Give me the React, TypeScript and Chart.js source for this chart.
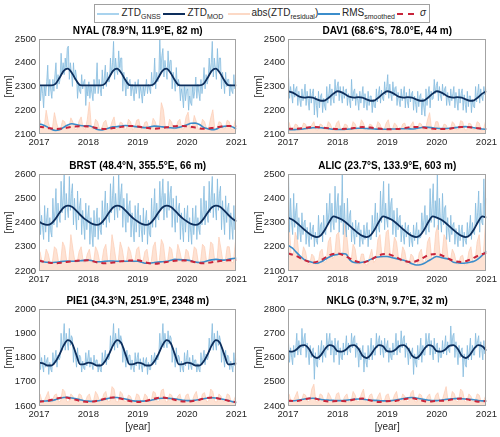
import React, { useEffect, useRef } from "react";
import { Chart, registerables } from "chart.js";

Chart.register(...registerables);

// ---------------- data ----------------
const YEAR_TICKS = [2017, 2018, 2019, 2020, 2021];

// NYAL
const nyalTitle = "NYAL (78.9°N, 11.9°E, 82 m)";
const nyalYTicks = [2100, 2200, 2300, 2400, 2500];
// ZTD GNSS, four readings per month (Jan 2017 .. Dec 2020)
const nyalGnss = [
  2330, 2240, 2300, 2270, 2210, 2300, 2260, 2320, 2390, 2260, 2330, 2280, 2250, 2330, 2280, 2350, 2400, 2290, 2350, 2310, 2330, 2440, 2360, 2400,
  2350, 2420, 2380, 2460, 2470, 2330, 2400, 2360, 2300, 2400, 2330, 2370, 2340, 2250, 2310, 2280, 2270, 2350, 2290, 2320, 2330, 2220, 2300, 2260,
  2320, 2250, 2300, 2270, 2240, 2330, 2270, 2310, 2400, 2270, 2330, 2290, 2260, 2370, 2290, 2340, 2390, 2300, 2360, 2320, 2320, 2420, 2350, 2400,
  2490, 2330, 2420, 2370, 2350, 2450, 2380, 2420, 2420, 2280, 2360, 2310, 2260, 2340, 2290, 2320, 2330, 2260, 2310, 2280, 2240, 2320, 2270, 2300,
  2330, 2250, 2300, 2270, 2230, 2300, 2260, 2290, 2330, 2270, 2310, 2290, 2270, 2360, 2300, 2330, 2420, 2290, 2360, 2320, 2340, 2500, 2370, 2430,
  2460, 2340, 2410, 2370, 2330, 2450, 2370, 2410, 2410, 2290, 2360, 2320, 2280, 2380, 2300, 2330, 2310, 2240, 2290, 2260, 2210, 2300, 2240, 2280,
  2290, 2200, 2260, 2230, 2220, 2300, 2250, 2280, 2340, 2250, 2310, 2270, 2240, 2330, 2270, 2310, 2380, 2290, 2350, 2310, 2330, 2420, 2360, 2400,
  2490, 2340, 2420, 2380, 2330, 2460, 2370, 2420, 2420, 2290, 2360, 2320, 2270, 2360, 2300, 2330, 2330, 2260, 2310, 2280, 2270, 2350, 2290, 2320,
];
// abs(ZTD residual), two readings per month
const nyalResidual = [
  2160, 2122, 2125, 2200, 2150, 2120, 2124, 2190, 2148, 2118, 2122, 2158, 2152, 2120, 2125, 2168, 2150, 2119, 2121, 2155, 2172, 2123, 2120, 2162,
  2235, 2124, 2120, 2162, 2152, 2118, 2123, 2150, 2158, 2121, 2122, 2152, 2172, 2119, 2124, 2150, 2146, 2120, 2122, 2162, 2152, 2118, 2125, 2158,
  2162, 2121, 2123, 2150, 2152, 2119, 2122, 2166, 2152, 2120, 2126, 2232, 2202, 2124, 2120, 2162, 2150, 2118, 2123, 2152, 2162, 2121, 2122, 2172,
  2192, 2123, 2124, 2178, 2152, 2119, 2121, 2162, 2152, 2122, 2126, 2168, 2202, 2120, 2122, 2152, 2148, 2121, 2123, 2158, 2152, 2119, 2122, 2162,
];
// monthly
const nyalMod = [
  2305, 2305, 2305, 2305, 2311, 2337, 2366, 2375, 2357, 2327, 2306, 2305,
  2305, 2305, 2305, 2305, 2311, 2337, 2366, 2375, 2357, 2327, 2306, 2305,
  2305, 2305, 2305, 2305, 2311, 2337, 2366, 2375, 2357, 2327, 2306, 2305,
  2305, 2305, 2305, 2305, 2311, 2337, 2366, 2375, 2357, 2327, 2306, 2305,
  2305,
];
const nyalRms = [
  2142, 2138, 2130, 2120, 2115, 2118, 2128, 2138, 2143, 2140, 2136, 2134,
  2135, 2130, 2120, 2117, 2120, 2125, 2130, 2131, 2133, 2136, 2134, 2132,
  2130, 2128, 2127, 2130, 2133, 2132, 2130, 2128, 2126, 2125, 2128, 2133,
  2139, 2145, 2146, 2140, 2128, 2122, 2118, 2120, 2128, 2132, 2134, 2130,
  2121,
];
// every two months
const nyalSigma = [
  2131, 2126, 2121, 2124, 2130, 2133,
  2132, 2125, 2121, 2125, 2130, 2134,
  2132, 2126, 2122, 2125, 2131, 2134,
  2133, 2127, 2122, 2125, 2131, 2134,
  2132,
];

// DAV1
const dav1Title = "DAV1 (68.6°S, 78.0°E, 44 m)";
const dav1YTicks = [2100, 2200, 2300, 2400, 2500];
const dav1Gnss = [
  2340, 2250, 2300, 2265, 2230, 2310, 2255, 2290, 2300, 2220, 2280, 2240, 2215, 2290, 2240, 2270, 2310, 2220, 2280, 2240, 2200, 2290, 2230, 2270,
  2290, 2180, 2260, 2220, 2170, 2280, 2210, 2260, 2270, 2190, 2250, 2215, 2200, 2300, 2230, 2270, 2310, 2220, 2290, 2250, 2230, 2330, 2260, 2300,
  2320, 2240, 2300, 2260, 2230, 2300, 2250, 2285, 2290, 2220, 2270, 2240, 2210, 2330, 2240, 2280, 2290, 2220, 2270, 2240, 2200, 2280, 2230, 2265,
  2300, 2210, 2270, 2230, 2200, 2280, 2220, 2260, 2260, 2190, 2245, 2215, 2210, 2290, 2235, 2270, 2300, 2230, 2285, 2250, 2240, 2320, 2265, 2300,
  2350, 2250, 2310, 2265, 2240, 2320, 2260, 2295, 2300, 2220, 2275, 2240, 2215, 2290, 2240, 2270, 2300, 2210, 2275, 2235, 2210, 2290, 2235, 2270,
  2280, 2200, 2260, 2225, 2190, 2280, 2215, 2260, 2270, 2180, 2250, 2210, 2175, 2290, 2220, 2270, 2300, 2210, 2280, 2245, 2250, 2330, 2270, 2305,
  2320, 2240, 2300, 2260, 2240, 2310, 2260, 2290, 2300, 2220, 2275, 2240, 2220, 2290, 2240, 2270, 2300, 2210, 2275, 2235, 2200, 2290, 2230, 2270,
  2290, 2200, 2265, 2225, 2190, 2280, 2215, 2260, 2260, 2190, 2245, 2215, 2210, 2300, 2235, 2275, 2310, 2230, 2290, 2255, 2240, 2300, 2265, 2290,
];
const dav1Residual = [
  2150, 2118, 2120, 2142, 2138, 2116, 2119, 2146, 2142, 2117, 2120, 2138, 2152, 2118, 2117, 2142, 2138, 2119, 2120, 2152, 2142, 2117, 2118, 2146,
  2156, 2118, 2120, 2142, 2138, 2116, 2119, 2152, 2142, 2117, 2120, 2160, 2146, 2118, 2117, 2142, 2138, 2119, 2120, 2152, 2142, 2117, 2118, 2146,
  2160, 2118, 2120, 2146, 2138, 2116, 2119, 2142, 2146, 2117, 2120, 2138, 2152, 2118, 2117, 2146, 2142, 2119, 2120, 2160, 2190, 2117, 2118, 2152,
  2152, 2118, 2120, 2142, 2138, 2116, 2119, 2152, 2142, 2117, 2120, 2156, 2152, 2118, 2117, 2146, 2142, 2119, 2120, 2152, 2146, 2117, 2118, 2152,
];
const dav1Mod = [
  2280, 2275, 2265, 2256, 2253, 2255, 2253, 2246, 2240, 2242, 2255, 2270,
  2280, 2275, 2265, 2256, 2253, 2255, 2253, 2246, 2240, 2242, 2255, 2270,
  2280, 2275, 2265, 2256, 2253, 2255, 2253, 2246, 2240, 2242, 2255, 2270,
  2280, 2275, 2265, 2256, 2253, 2255, 2253, 2246, 2240, 2242, 2255, 2270,
  2280,
];
const dav1Rms = [
  2118, 2118, 2119, 2120, 2122, 2124, 2126, 2127, 2126, 2124, 2122, 2120,
  2119, 2119, 2120, 2121, 2123, 2124, 2124, 2123, 2122, 2121, 2120, 2120,
  2120, 2121, 2121, 2122, 2122, 2122, 2121, 2123, 2126, 2129, 2128, 2126,
  2124, 2123, 2123, 2124, 2126, 2128, 2130, 2131, 2129, 2126, 2123, 2121,
  2120,
];
const dav1Sigma = [
  2122, 2122, 2125, 2130, 2128, 2124,
  2121, 2122, 2125, 2129, 2127, 2123,
  2120, 2121, 2124, 2130, 2129, 2124,
  2121, 2121, 2125, 2130, 2128, 2124,
  2121,
];

// BRST
const brstTitle = "BRST (48.4°N, 355.5°E, 66 m)";
const brstYTicks = [2200, 2300, 2400, 2500, 2600];
const brstGnss = [
  2480, 2350, 2430, 2380, 2330, 2470, 2360, 2420, 2460, 2320, 2420, 2360, 2340, 2500, 2390, 2450, 2540, 2380, 2480, 2420, 2400, 2570, 2440, 2510,
  2600, 2410, 2520, 2460, 2420, 2590, 2450, 2520, 2560, 2390, 2500, 2430, 2370, 2530, 2410, 2470, 2500, 2350, 2450, 2390, 2330, 2480, 2370, 2430,
  2470, 2310, 2420, 2350, 2300, 2450, 2340, 2410, 2460, 2330, 2420, 2370, 2350, 2490, 2390, 2450, 2530, 2380, 2480, 2420, 2400, 2560, 2440, 2510,
  2590, 2410, 2520, 2460, 2420, 2600, 2450, 2520, 2560, 2380, 2500, 2430, 2360, 2520, 2400, 2470, 2490, 2340, 2440, 2380, 2320, 2470, 2360, 2430,
  2480, 2340, 2430, 2370, 2320, 2460, 2350, 2410, 2450, 2310, 2410, 2350, 2340, 2500, 2380, 2450, 2540, 2380, 2480, 2420, 2410, 2570, 2450, 2510,
  2580, 2410, 2520, 2460, 2420, 2570, 2450, 2520, 2550, 2380, 2500, 2430, 2360, 2510, 2400, 2460, 2480, 2330, 2440, 2380, 2320, 2460, 2360, 2420,
  2470, 2320, 2420, 2360, 2310, 2460, 2350, 2410, 2470, 2330, 2420, 2370, 2350, 2500, 2390, 2450, 2550, 2390, 2490, 2430, 2400, 2570, 2440, 2510,
  2590, 2420, 2520, 2460, 2410, 2580, 2450, 2520, 2550, 2370, 2490, 2420, 2350, 2510, 2400, 2460, 2480, 2330, 2440, 2380, 2330, 2470, 2370, 2420,
];
const brstResidual = [
  2280, 2235, 2238, 2290, 2270, 2232, 2236, 2300, 2290, 2238, 2234, 2320, 2300, 2240, 2238, 2350, 2290, 2236, 2234, 2280, 2300, 2238, 2236, 2270,
  2290, 2236, 2234, 2300, 2280, 2238, 2236, 2290, 2310, 2232, 2238, 2350, 2300, 2240, 2236, 2320, 2290, 2234, 2238, 2300, 2280, 2236, 2234, 2290,
  2300, 2238, 2236, 2280, 2290, 2232, 2234, 2300, 2320, 2238, 2240, 2330, 2310, 2236, 2238, 2300, 2290, 2234, 2236, 2310, 2280, 2238, 2234, 2290,
  2280, 2236, 2238, 2300, 2290, 2232, 2236, 2310, 2300, 2238, 2240, 2320, 2310, 2236, 2238, 2340, 2290, 2234, 2236, 2300, 2300, 2238, 2234, 2320,
];
const brstMod = [
  2404, 2394, 2390, 2396, 2415, 2440, 2462, 2470, 2465, 2450, 2432, 2416,
  2404, 2394, 2390, 2396, 2415, 2440, 2462, 2470, 2465, 2450, 2432, 2416,
  2404, 2394, 2390, 2396, 2415, 2440, 2462, 2470, 2465, 2450, 2432, 2416,
  2404, 2394, 2390, 2396, 2415, 2440, 2462, 2470, 2465, 2450, 2432, 2416,
  2404,
];
const brstRms = [
  2240, 2238, 2236, 2235, 2236, 2238, 2240, 2241, 2240, 2240, 2242, 2244,
  2245, 2242, 2238, 2238, 2240, 2241, 2241, 2240, 2240, 2240, 2241, 2240,
  2240, 2236, 2232, 2232, 2235, 2237, 2238, 2240, 2244, 2248, 2247, 2246,
  2245, 2242, 2237, 2235, 2237, 2242, 2246, 2248, 2246, 2245, 2248, 2251,
  2253,
];
const brstSigma = [
  2243, 2236, 2232, 2236, 2240, 2243,
  2244, 2236, 2232, 2235, 2240, 2243,
  2244, 2235, 2230, 2234, 2240, 2243,
  2243, 2236, 2232, 2236, 2241, 2244,
  2245,
];

// ALIC
const alicTitle = "ALIC (23.7°S, 133.9°E, 603 m)";
const alicYTicks = [2100, 2200, 2300, 2400, 2500];
const alicGnss = [
  2500, 2260, 2400, 2300, 2250, 2420, 2280, 2350, 2380, 2230, 2320, 2260, 2220, 2340, 2250, 2300, 2310, 2210, 2280, 2240, 2200, 2300, 2230, 2270,
  2290, 2200, 2260, 2225, 2210, 2330, 2240, 2290, 2300, 2220, 2330, 2260, 2250, 2380, 2290, 2340, 2420, 2260, 2380, 2300, 2270, 2450, 2300, 2380,
  2420, 2260, 2370, 2300, 2500, 2250, 2380, 2290, 2240, 2400, 2270, 2330, 2350, 2220, 2300, 2250, 2210, 2310, 2240, 2280, 2300, 2200, 2270, 2230,
  2210, 2290, 2230, 2265, 2300, 2200, 2270, 2230, 2230, 2330, 2260, 2300, 2380, 2240, 2340, 2280, 2260, 2430, 2300, 2380, 2470, 2270, 2380, 2310,
  2280, 2460, 2310, 2380, 2400, 2250, 2350, 2290, 2240, 2360, 2270, 2320, 2330, 2220, 2290, 2250, 2210, 2300, 2240, 2275, 2290, 2200, 2260, 2225,
  2200, 2290, 2225, 2260, 2300, 2210, 2270, 2235, 2240, 2340, 2270, 2310, 2370, 2250, 2330, 2280, 2260, 2440, 2300, 2380, 2460, 2280, 2390, 2320,
  2500, 2270, 2400, 2310, 2260, 2420, 2290, 2360, 2370, 2230, 2320, 2260, 2220, 2330, 2250, 2290, 2300, 2210, 2275, 2240, 2200, 2290, 2225, 2265,
  2290, 2200, 2260, 2225, 2210, 2300, 2240, 2275, 2330, 2230, 2300, 2260, 2250, 2380, 2290, 2340, 2430, 2260, 2380, 2300, 2290, 2480, 2320, 2400,
];
const alicResidual = [
  2300, 2170, 2165, 2260, 2230, 2150, 2145, 2200, 2180, 2130, 2128, 2170, 2160, 2125, 2128, 2180, 2190, 2135, 2140, 2220, 2240, 2150, 2160, 2250,
  2260, 2165, 2170, 2300, 2240, 2155, 2140, 2210, 2190, 2130, 2128, 2170, 2170, 2125, 2126, 2160, 2190, 2135, 2145, 2230, 2250, 2155, 2165, 2260,
  2270, 2170, 2165, 2240, 2220, 2150, 2140, 2200, 2180, 2130, 2128, 2170, 2160, 2125, 2126, 2175, 2190, 2135, 2140, 2220, 2240, 2150, 2160, 2260,
  2290, 2170, 2165, 2250, 2230, 2150, 2140, 2190, 2170, 2130, 2128, 2160, 2165, 2125, 2126, 2180, 2200, 2135, 2140, 2220, 2250, 2155, 2165, 2300,
];
const alicMod = [
  2320, 2312, 2300, 2285, 2270, 2256, 2245, 2240, 2248, 2272, 2303, 2325,
  2320, 2312, 2300, 2285, 2270, 2256, 2245, 2240, 2248, 2272, 2303, 2325,
  2320, 2312, 2300, 2285, 2270, 2256, 2245, 2240, 2248, 2272, 2303, 2325,
  2320, 2312, 2300, 2285, 2270, 2256, 2245, 2240, 2248, 2272, 2303, 2325,
  2320,
];
const alicRms = [
  2206, 2195, 2178, 2160, 2146, 2140, 2135, 2132, 2138, 2148, 2158, 2165,
  2168, 2172, 2170, 2145, 2135, 2134, 2136, 2140, 2148, 2155, 2158, 2160,
  2160, 2156, 2152, 2148, 2144, 2138, 2130, 2125, 2126, 2132, 2142, 2152,
  2160, 2156, 2152, 2148, 2136, 2134, 2132, 2133, 2136, 2140, 2150, 2165,
  2182,
];
const alicSigma = [
  2172, 2162, 2145, 2135, 2145, 2165,
  2172, 2160, 2143, 2135, 2146, 2165,
  2170, 2158, 2142, 2137, 2148, 2166,
  2170, 2158, 2142, 2137, 2147, 2163,
  2175,
];

// PIE1
const pie1Title = "PIE1 (34.3°N, 251.9°E, 2348 m)";
const pie1YTicks = [1600, 1700, 1800, 1900, 2000];
const pie1Gnss = [
  1830, 1750, 1800, 1765, 1740, 1810, 1760, 1790, 1800, 1730, 1780, 1750, 1740, 1820, 1770, 1800, 1830, 1760, 1810, 1790, 1800, 1900, 1830, 1870,
  1940, 1830, 1900, 1860, 1830, 1920, 1850, 1890, 1880, 1780, 1840, 1800, 1760, 1840, 1775, 1810, 1800, 1740, 1785, 1755, 1750, 1820, 1765, 1800,
  1830, 1760, 1800, 1770, 1750, 1810, 1765, 1790, 1790, 1740, 1775, 1750, 1740, 1820, 1770, 1800, 1830, 1770, 1815, 1790, 1800, 1890, 1830, 1870,
  1940, 1830, 1900, 1860, 1840, 1920, 1855, 1890, 1870, 1780, 1840, 1800, 1760, 1830, 1775, 1810, 1810, 1750, 1790, 1760, 1740, 1820, 1765, 1800,
  1820, 1750, 1795, 1765, 1740, 1800, 1760, 1785, 1800, 1730, 1780, 1750, 1750, 1810, 1770, 1795, 1820, 1770, 1810, 1790, 1810, 1900, 1835, 1870,
  1940, 1840, 1900, 1860, 1840, 1910, 1855, 1890, 1880, 1780, 1840, 1800, 1760, 1840, 1775, 1810, 1800, 1740, 1785, 1755, 1740, 1820, 1765, 1800,
  1830, 1750, 1800, 1765, 1750, 1810, 1765, 1790, 1790, 1740, 1775, 1750, 1740, 1820, 1770, 1800, 1830, 1770, 1815, 1790, 1800, 1880, 1830, 1865,
  1940, 1830, 1900, 1860, 1830, 1910, 1850, 1890, 1870, 1780, 1840, 1800, 1760, 1830, 1775, 1810, 1800, 1750, 1785, 1760, 1740, 1820, 1765, 1795,
];
const pie1Residual = [
  1650, 1618, 1620, 1640, 1660, 1616, 1619, 1645, 1650, 1617, 1620, 1670, 1660, 1618, 1617, 1650, 1640, 1619, 1620, 1650, 1645, 1617, 1618, 1640,
  1650, 1618, 1620, 1660, 1645, 1616, 1619, 1650, 1660, 1617, 1620, 1680, 1670, 1618, 1617, 1660, 1650, 1619, 1620, 1645, 1640, 1617, 1618, 1650,
  1645, 1618, 1620, 1650, 1640, 1616, 1619, 1660, 1655, 1617, 1620, 1665, 1670, 1618, 1617, 1650, 1645, 1619, 1620, 1640, 1650, 1617, 1618, 1645,
  1650, 1618, 1620, 1645, 1660, 1616, 1619, 1650, 1655, 1617, 1620, 1670, 1660, 1618, 1617, 1650, 1640, 1619, 1620, 1650, 1645, 1617, 1618, 1640,
];
const pie1Mod = [
  1779, 1776, 1767, 1767, 1783, 1813, 1850, 1872, 1860, 1815, 1772, 1773,
  1779, 1776, 1767, 1767, 1783, 1813, 1850, 1872, 1860, 1815, 1772, 1773,
  1779, 1776, 1767, 1767, 1783, 1813, 1850, 1872, 1860, 1815, 1772, 1773,
  1779, 1776, 1767, 1767, 1783, 1813, 1850, 1872, 1860, 1815, 1772, 1773,
  1776,
];
const pie1Rms = [
  1620, 1620, 1621, 1622, 1626, 1631, 1635, 1636, 1633, 1630, 1626, 1622,
  1620, 1619, 1621, 1624, 1628, 1632, 1635, 1635, 1632, 1629, 1625, 1621,
  1620, 1620, 1621, 1623, 1627, 1631, 1632, 1632, 1631, 1630, 1627, 1624,
  1622, 1622, 1624, 1627, 1630, 1633, 1634, 1633, 1630, 1627, 1623, 1618,
  1613,
];
const pie1Sigma = [
  1618, 1621, 1630, 1635, 1630, 1621,
  1617, 1621, 1630, 1635, 1630, 1621,
  1617, 1621, 1630, 1635, 1630, 1621,
  1618, 1622, 1630, 1635, 1630, 1622,
  1615,
];

// NKLG
const nklgTitle = "NKLG (0.3°N, 9.7°E, 32 m)";
const nklgYTicks = [2400, 2500, 2600, 2700, 2800];
const nklgGnss = [
  2660, 2580, 2640, 2600, 2570, 2650, 2600, 2640, 2700, 2610, 2670, 2630, 2610, 2720, 2640, 2680, 2700, 2600, 2660, 2620, 2570, 2650, 2600, 2630,
  2640, 2510, 2620, 2570, 2560, 2650, 2590, 2630, 2670, 2580, 2650, 2610, 2600, 2700, 2630, 2670, 2700, 2610, 2670, 2630, 2580, 2680, 2610, 2650,
  2670, 2570, 2640, 2600, 2590, 2660, 2610, 2640, 2690, 2610, 2660, 2630, 2620, 2700, 2640, 2680, 2690, 2600, 2660, 2620, 2560, 2640, 2590, 2620,
  2650, 2540, 2620, 2580, 2560, 2650, 2590, 2630, 2680, 2590, 2650, 2610, 2610, 2700, 2640, 2670, 2690, 2610, 2670, 2630, 2600, 2680, 2620, 2650,
  2670, 2580, 2640, 2600, 2590, 2660, 2610, 2640, 2700, 2610, 2670, 2630, 2620, 2710, 2640, 2680, 2690, 2600, 2660, 2620, 2570, 2640, 2595, 2620,
  2640, 2530, 2615, 2575, 2560, 2650, 2590, 2630, 2680, 2580, 2650, 2610, 2610, 2700, 2640, 2670, 2700, 2610, 2670, 2630, 2590, 2680, 2615, 2650,
  2660, 2580, 2640, 2600, 2600, 2670, 2615, 2645, 2690, 2610, 2665, 2630, 2620, 2730, 2645, 2690, 2700, 2600, 2665, 2620, 2570, 2650, 2600, 2630,
  2640, 2520, 2615, 2570, 2560, 2650, 2590, 2630, 2680, 2590, 2650, 2610, 2610, 2700, 2640, 2670, 2690, 2600, 2665, 2630, 2590, 2670, 2615, 2645,
];
const nklgResidual = [
  2450, 2418, 2420, 2440, 2460, 2416, 2419, 2450, 2445, 2417, 2420, 2470, 2490, 2418, 2417, 2450, 2445, 2419, 2420, 2455, 2440, 2417, 2418, 2450,
  2455, 2418, 2420, 2440, 2450, 2416, 2419, 2460, 2445, 2417, 2420, 2450, 2470, 2418, 2417, 2445, 2450, 2419, 2420, 2440, 2455, 2417, 2418, 2445,
  2450, 2418, 2420, 2445, 2460, 2416, 2419, 2450, 2440, 2417, 2420, 2455, 2465, 2418, 2417, 2450, 2445, 2419, 2420, 2440, 2450, 2417, 2418, 2445,
  2455, 2418, 2420, 2450, 2480, 2416, 2419, 2460, 2450, 2417, 2420, 2470, 2460, 2418, 2417, 2450, 2440, 2419, 2420, 2450, 2445, 2417, 2418, 2440,
];
const nklgMod = [
  2626, 2624, 2632, 2648, 2651, 2637, 2608, 2598, 2611, 2636, 2651, 2646,
  2626, 2624, 2632, 2648, 2651, 2637, 2608, 2598, 2611, 2636, 2651, 2646,
  2626, 2624, 2632, 2648, 2651, 2637, 2608, 2598, 2611, 2636, 2651, 2646,
  2626, 2624, 2632, 2648, 2651, 2637, 2608, 2598, 2611, 2636, 2651, 2646,
  2628,
];
const nklgRms = [
  2420, 2421, 2423, 2426, 2429, 2431, 2432, 2430, 2427, 2425, 2424, 2423,
  2422, 2422, 2424, 2426, 2428, 2429, 2428, 2426, 2424, 2423, 2422, 2421,
  2421, 2422, 2425, 2428, 2431, 2434, 2435, 2433, 2430, 2427, 2424, 2422,
  2422, 2424, 2427, 2429, 2430, 2431, 2430, 2429, 2428, 2426, 2423, 2421,
  2420,
];
const nklgSigma = [
  2422, 2420, 2428, 2432, 2424, 2418,
  2421, 2420, 2427, 2431, 2423, 2417,
  2420, 2421, 2428, 2432, 2424, 2418,
  2421, 2422, 2428, 2431, 2425, 2418,
  2421,
];

// ---------------- styling / layout ----------------
const FONT = "'Liberation Sans', Arial, Helvetica, sans-serif";
const TEXT = "#262626";
const C_GNSS = "rgba(125,183,220,0.8)";
const C_GNSS_FILL = "rgba(155,203,232,0.5)";
const C_MOD = "#0d2e5c";
const C_RES_LINE = "rgba(252,204,180,0.7)";
const C_RES_FILL = "rgba(253,210,188,0.65)";
const C_RMS = "#3b8dcb";
const C_SIG = "#c8243a";

const COL_LEFT = [0, 250];
const Y_AXIS_W = [39, 38];
const PAD_RIGHT = [12, 13];
const ROW_TOP = [20, 155, 290];
const ROW_H = [135, 135, 147];
const X_AXIS_H = [21, 19, 31];

const quarterMonthX = (i: number) => 2017 + (i + 0.5) / 48;
const halfMonthX = (i: number) => 2017 + (i + 0.5) / 24;
const monthX = (i: number) => 2017 + i / 12;
const biMonthX = (i: number) => 2017 + i / 6;
const pts = (vals: number[], fx: (i: number) => number) => vals.map((y, i) => ({ x: fx(i), y }));

const panels = [
  { title: nyalTitle, yTicks: nyalYTicks, gnss: nyalGnss, res: nyalResidual, mod: nyalMod, rms: nyalRms, sig: nyalSigma, col: 0, row: 0 },
  { title: dav1Title, yTicks: dav1YTicks, gnss: dav1Gnss, res: dav1Residual, mod: dav1Mod, rms: dav1Rms, sig: dav1Sigma, col: 1, row: 0 },
  { title: brstTitle, yTicks: brstYTicks, gnss: brstGnss, res: brstResidual, mod: brstMod, rms: brstRms, sig: brstSigma, col: 0, row: 1 },
  { title: alicTitle, yTicks: alicYTicks, gnss: alicGnss, res: alicResidual, mod: alicMod, rms: alicRms, sig: alicSigma, col: 1, row: 1 },
  { title: pie1Title, yTicks: pie1YTicks, gnss: pie1Gnss, res: pie1Residual, mod: pie1Mod, rms: pie1Rms, sig: pie1Sigma, col: 0, row: 2 },
  { title: nklgTitle, yTicks: nklgYTicks, gnss: nklgGnss, res: nklgResidual, mod: nklgMod, rms: nklgRms, sig: nklgSigma, col: 1, row: 2 },
];

const framePlugin = {
  id: "frameBox",
  afterDraw(chart: any) {
    const { ctx, chartArea } = chart;
    const { left, top, right, bottom } = chartArea;
    ctx.save();
    ctx.strokeStyle = "#a3a3a3";
    ctx.lineWidth = 1;
    ctx.strokeRect(Math.round(left) + 0.5, Math.round(top) + 0.5, Math.round(right - left) - 1, Math.round(bottom - top) - 1);
    ctx.restore();
  },
};

function Panel({ p }: { p: (typeof panels)[number] }) {
  const ref = useRef<HTMLCanvasElement>(null);
  const w = 250;
  const h = ROW_H[p.row];
  const isBottom = p.row === 2;
  useEffect(() => {
    if (!ref.current) return;
    const tickFont = { family: FONT, size: 9.5 };
    const chart = new Chart(ref.current, {
      type: "line",
      data: {
        datasets: [
          {
            label: "abs(ZTD residual)",
            data: pts(p.res, halfMonthX),
            borderColor: C_RES_LINE,
            backgroundColor: C_RES_FILL,
            borderWidth: 1,
            fill: "start",
            pointRadius: 0,
            tension: 0,
            order: 5,
          },
          {
            label: "ZTD GNSS",
            data: pts(p.gnss, quarterMonthX),
            borderColor: C_GNSS,
            backgroundColor: C_GNSS_FILL,
            borderWidth: 0.9,
            fill: 2,
            pointRadius: 0,
            tension: 0,
            order: 4,
          },
          {
            label: "ZTD MOD",
            data: pts(p.mod, monthX),
            borderColor: C_MOD,
            borderWidth: 1.8,
            fill: false,
            pointRadius: 0,
            cubicInterpolationMode: "monotone",
            order: 3,
          },
          {
            label: "RMS smoothed",
            data: pts(p.rms, monthX),
            borderColor: C_RMS,
            borderWidth: 1.6,
            fill: false,
            pointRadius: 0,
            cubicInterpolationMode: "monotone",
            order: 2,
          },
          {
            label: "sigma",
            data: pts(p.sig, biMonthX),
            borderColor: C_SIG,
            borderWidth: 2,
            borderDash: [5, 4],
            fill: false,
            pointRadius: 0,
            cubicInterpolationMode: "monotone",
            order: 1,
          },
        ],
      },
      options: {
        animation: false,
        responsive: false,
        devicePixelRatio: 1,
        events: [],
        layout: { padding: { top: 0, left: 0, bottom: 0, right: PAD_RIGHT[p.col] } },
        plugins: {
          legend: { display: false },
          tooltip: { enabled: false },
          title: {
            display: true,
            text: p.title,
            fullSize: false,
            color: "#000",
            font: { family: FONT, size: 10, weight: "bold" },
            padding: { top: 5, bottom: 2 },
          },
        },
        scales: {
          x: {
            type: "linear",
            min: YEAR_TICKS[0],
            max: YEAR_TICKS[YEAR_TICKS.length - 1],
            afterBuildTicks: (s: any) => {
              s.ticks = YEAR_TICKS.map((v) => ({ value: v }));
            },
            afterFit: (s: any) => {
              s.height = X_AXIS_H[p.row];
            },
            grid: { display: false, drawTicks: false },
            border: { display: false },
            ticks: {
              color: TEXT,
              font: tickFont,
              padding: 3,
              maxRotation: 0,
              autoSkip: false,
              callback: (v: any) => String(v),
            },
            title: {
              display: isBottom,
              text: "[year]",
              color: TEXT,
              font: { family: FONT, size: 10 },
              padding: { top: 0, bottom: 4 },
            },
          },
          y: {
            type: "linear",
            min: p.yTicks[0],
            max: p.yTicks[p.yTicks.length - 1],
            afterBuildTicks: (s: any) => {
              s.ticks = p.yTicks.map((v) => ({ value: v }));
            },
            afterFit: (s: any) => {
              s.width = Y_AXIS_W[p.col];
            },
            grid: { display: false, drawTicks: false },
            border: { display: false },
            ticks: {
              color: TEXT,
              font: tickFont,
              padding: 3,
              autoSkip: false,
              callback: (v: any) => String(v),
            },
            title: {
              display: true,
              text: "[mm]",
              color: TEXT,
              font: { family: FONT, size: 10 },
              padding: { top: 3, bottom: 0 },
            },
          },
        },
      },
      plugins: [framePlugin],
    } as any);
    return () => chart.destroy();
  }, []);
  return (
    <canvas
      ref={ref}
      width={w}
      height={h}
      style={{ position: "absolute", left: COL_LEFT[p.col], top: ROW_TOP[p.row], width: w, height: h }}
    />
  );
}

function LegendLine({ x1, x2, color, dashed }: { x1: number; x2: number; color: string; dashed?: boolean }) {
  if (dashed) {
    const seg = (x2 - x1 - 5) / 2;
    return (
      <>
        <div style={{ position: "absolute", left: x1 - 95, top: 8, width: seg, height: 2, background: color }} />
        <div style={{ position: "absolute", left: x2 - 95 - seg, top: 8, width: seg, height: 2, background: color }} />
      </>
    );
  }
  return <div style={{ position: "absolute", left: x1 - 95, top: 8, width: x2 - x1, height: 2, background: color }} />;
}

function LegendText({ x, children }: { x: number; children: React.ReactNode }) {
  return (
    <span style={{ position: "absolute", left: x - 95, top: 2, whiteSpace: "nowrap", lineHeight: "11px" }}>{children}</span>
  );
}

const subStyle: React.CSSProperties = { fontSize: 7, verticalAlign: "baseline", position: "relative", top: 3 };

function Legend() {
  return (
    <div
      style={{
        position: "absolute",
        left: 94,
        top: 4,
        width: 336,
        height: 19,
        boxSizing: "border-box",
        border: "1px solid #a0a0a0",
        background: "#fff",
        fontFamily: FONT,
        fontSize: 10,
        color: TEXT,
      }}
    >
      <LegendLine x1={97} x2={119} color="#a9d3ee" />
      <LegendText x={121.5}>
        ZTD<span style={subStyle}>GNSS</span>
      </LegendText>
      <LegendLine x1={163} x2={185} color={C_MOD} />
      <LegendText x={187.5}>
        ZTD<span style={subStyle}>MOD</span>
      </LegendText>
      <LegendLine x1={228} x2={250} color="#fcd9c6" />
      <LegendText x={251.5}>
        abs(ZTD<span style={subStyle}>residual</span>)
      </LegendText>
      <LegendLine x1={318} x2={340} color={C_RMS} />
      <LegendText x={342}>
        RMS<span style={subStyle}>smoothed</span>
      </LegendText>
      <LegendLine x1={397} x2={414} color={C_SIG} dashed />
      <LegendText x={420}>
        <i>σ</i>
      </LegendText>
    </div>
  );
}

export default function App() {
  return (
    <div style={{ position: "absolute", left: 0, top: 0, width: 500, height: 437, background: "#fff", overflow: "hidden" }}>
      <Legend />
      {panels.map((p, i) => (
        <Panel key={i} p={p} />
      ))}
    </div>
  );
}
